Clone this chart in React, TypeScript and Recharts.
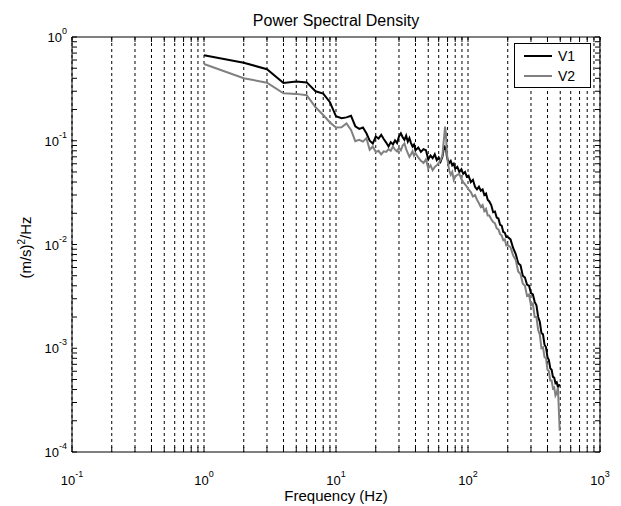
import React from "react";
import {
  LineChart,
  Line,
  XAxis,
  YAxis,
  CartesianGrid,
  Legend,
} from "recharts";

const FONT = "'Liberation Sans', Arial, Helvetica, sans-serif";

// frequency bins (Hz), shared by both channels
const freqs = [
  1, 2, 3, 4, 5, 6, 7, 8, 9, 10, 11, 12, 13, 14, 15, 16, 17, 18, 19, 20,
  21, 22, 23, 24, 25, 26, 27, 28, 29, 30, 31, 32, 33, 34, 35, 36, 37, 38, 39, 40,
  42, 44, 46, 48, 50, 52, 54, 56, 58, 60, 62, 64,
  65, 66, 67, 68, 69, 70,
  72, 74, 76, 78, 80,
  83, 86, 89, 92, 95, 98,
  101, 105, 109, 113, 117, 121, 125, 129, 133, 137, 141, 145,
  150, 155, 160, 165, 170, 175, 180, 185, 190, 195, 200,
  210, 220, 230, 240, 250, 260, 270, 280, 290, 300, 310, 320, 330, 340, 350,
  360, 370, 380, 390, 400, 410, 420, 430, 440, 450, 460, 470, 480, 495,
];

const v1 = [
  0.667, 0.565, 0.489, 0.36, 0.372, 0.365, 0.3, 0.285, 0.235, 0.172, 0.165, 0.168, 0.174, 0.138, 0.13, 0.134, 0.118, 0.1, 0.094, 0.11,
  0.105, 0.114, 0.104, 0.096, 0.088, 0.097, 0.092, 0.101, 0.095, 0.11, 0.118, 0.108, 0.102, 0.112, 0.098, 0.106, 0.095, 0.088, 0.092, 0.081,
  0.086, 0.078, 0.083, 0.081, 0.066, 0.072, 0.068, 0.074, 0.065, 0.069, 0.063, 0.07,
  0.078, 0.09, 0.082, 0.088, 0.072, 0.066,
  0.061, 0.064, 0.058, 0.06, 0.054,
  0.056, 0.05, 0.053, 0.048, 0.05, 0.045,
  0.046, 0.04, 0.042, 0.036, 0.034, 0.036, 0.033, 0.034, 0.03, 0.031, 0.027, 0.026,
  0.024, 0.0205, 0.0208, 0.0182, 0.0178, 0.0155, 0.0152, 0.0132, 0.013, 0.0118, 0.0118,
  0.0112, 0.0092, 0.0081, 0.0066, 0.0063, 0.005, 0.0048, 0.0041, 0.004, 0.0034, 0.0033, 0.0028, 0.0026, 0.002, 0.0018,
  0.0014, 0.00136, 0.00108, 0.00102, 0.00082, 0.00077, 0.00064, 0.00062, 0.00053, 0.00052, 0.00046, 0.00047, 0.00042, 0.00045,
];

const v2 = [
  0.549, 0.4, 0.363, 0.287, 0.283, 0.275, 0.21, 0.177, 0.15, 0.134, 0.135, 0.147, 0.127, 0.099, 0.102, 0.098, 0.106, 0.082, 0.088, 0.078,
  0.08, 0.074, 0.079, 0.078, 0.083, 0.08, 0.088, 0.082, 0.079, 0.085, 0.081, 0.09, 0.094, 0.083, 0.076, 0.07, 0.074, 0.079, 0.072, 0.076,
  0.069, 0.064, 0.061, 0.066, 0.054, 0.058, 0.052, 0.056, 0.058, 0.061, 0.065, 0.072,
  0.09, 0.11, 0.137, 0.12, 0.08, 0.065,
  0.052, 0.047, 0.05, 0.042, 0.045,
  0.047, 0.048, 0.043, 0.04, 0.038, 0.036,
  0.034, 0.032, 0.029, 0.03, 0.027, 0.025, 0.023, 0.024, 0.021, 0.022, 0.019, 0.019,
  0.0175, 0.0165, 0.016, 0.0143, 0.014, 0.0126, 0.0122, 0.011, 0.0112, 0.0098, 0.0099,
  0.0094, 0.0078, 0.0071, 0.0055, 0.0052, 0.0042, 0.004, 0.0032, 0.0033, 0.0026, 0.0027, 0.002, 0.002, 0.0015, 0.00135,
  0.001, 0.00102, 0.00082, 0.0008, 0.00062, 0.0006, 0.00049, 0.00049, 0.00041, 0.00042, 0.00035, 0.00037, 0.00042, 0.00016,
];

const xDecades = [-1, 3];
const yDecades = [-4, 0];
const minorSteps = [1, 2, 3, 4, 5, 6, 7, 8, 9];

const data = freqs.map((f, i) => ({ f, v1: v1[i], v2: v2[i] }));

const logTicks = ([lo, hi]: number[]) => {
  const out: number[] = [];
  for (let e = lo; e <= hi; e++) {
    for (const m of minorSteps) {
      if (e === hi && m > 1) break;
      out.push(Number((m * Math.pow(10, e)).toPrecision(3)));
    }
  }
  return out;
};

const xTicks = logTicks(xDecades);
const yTicks = logTicks(yDecades);

const majorExp = (v: number) => {
  const l = Math.log10(v);
  const e = Math.round(l);
  return Math.abs(l - e) < 1e-6 ? e : null;
};

const BottomTick = ({ x, y, payload }: any) => {
  const e = majorExp(payload.value);
  return (
    <g>
      <line x1={x} y1={y} x2={x} y2={y - 5} stroke="#000" />
      {e !== null && (
        <text x={x} y={y + 33} textAnchor="middle" fontFamily={FONT} fontSize={13} fill="#000">
          10
          <tspan dy={-8} fontSize={9}>{e}</tspan>
        </text>
      )}
    </g>
  );
};

const TopTick = ({ x, y }: any) => (
  <line x1={x} y1={y} x2={x} y2={y + 5} stroke="#000" />
);

const LeftTick = ({ x, y, payload }: any) => {
  const e = majorExp(payload.value);
  return (
    <g>
      <line x1={x} y1={y} x2={x + 5} y2={y} stroke="#000" />
      {e !== null && (
        <text x={x - 5} y={y + 5} textAnchor="end" fontFamily={FONT} fontSize={13} fill="#000">
          10
          <tspan dy={-8} fontSize={9}>{e}</tspan>
        </text>
      )}
    </g>
  );
};

const RightTick = ({ x, y }: any) => (
  <line x1={x} y1={y} x2={x - 5} y2={y} stroke="#000" />
);

const LegendBox = ({ payload }: any) => (
  <div
    style={{
      width: 77,
      height: 45,
      boxSizing: "border-box",
      border: "1px solid #000",
      background: "#fff",
      paddingTop: 2,
      fontFamily: FONT,
      fontSize: 14,
    }}
  >
    {(payload || []).map((p: any) => (
      <div key={p.value} style={{ display: "flex", alignItems: "center", height: 20 }}>
        <div style={{ width: 28, height: 2, background: p.color, marginLeft: 9, marginRight: 6 }} />
        <span style={{ color: "#000" }}>{p.value}</span>
      </div>
    ))}
  </div>
);

export default function App() {
  return (
    <div style={{ position: "absolute", left: 0, top: 0, background: "#fff" }}>
      <LineChart
        width={621}
        height={506}
        data={data}
        margin={{ top: 7, right: 20, bottom: 14, left: 12 }}
      >
        <CartesianGrid horizontal={false} stroke="#000" strokeDasharray="3 3" />
        <XAxis
          dataKey="f"
          type="number"
          scale="log"
          domain={[0.1, 1000]}
          allowDataOverflow
          ticks={xTicks}
          interval={0}
          height={40}
          tickSize={0}
          tickMargin={0}
          tickLine={false}
          tick={<BottomTick />}
          axisLine={{ stroke: "#000" }}
          label={({ viewBox }: any) => (
            <text
              x={viewBox.x + viewBox.width / 2}
              y={viewBox.y + 49}
              textAnchor="middle"
              fontFamily={FONT}
              fontSize={15}
              fill="#000"
            >
              Frequency (Hz)
            </text>
          )}
        />
        <XAxis
          xAxisId="t"
          orientation="top"
          dataKey="f"
          type="number"
          scale="log"
          domain={[0.1, 1000]}
          allowDataOverflow
          ticks={xTicks}
          interval={0}
          height={30}
          tickSize={0}
          tickMargin={0}
          tickLine={false}
          tick={<TopTick />}
          axisLine={{ stroke: "#000" }}
          label={({ viewBox }: any) => (
            <text
              x={viewBox.x + viewBox.width / 2}
              y={viewBox.y + viewBox.height - 11}
              textAnchor="middle"
              fontFamily={FONT}
              fontSize={16}
              fill="#000"
            >
              Power Spectral Density
            </text>
          )}
        />
        <YAxis
          type="number"
          scale="log"
          domain={[0.0001, 1]}
          allowDataOverflow
          ticks={yTicks}
          interval={0}
          width={60}
          tickSize={0}
          tickMargin={0}
          tickLine={false}
          tick={<LeftTick />}
          axisLine={{ stroke: "#000" }}
          label={({ viewBox }: any) => {
            const cx = viewBox.x + viewBox.width - 41;
            const cy = viewBox.y + viewBox.height / 2 + 3;
            return (
              <text
                x={cx}
                y={cy}
                transform={`rotate(-90, ${cx}, ${cy})`}
                textAnchor="middle"
                fontFamily={FONT}
                fontSize={15}
                fill="#000"
              >
                (m/s)
                <tspan dy={-6} fontSize={10}>2</tspan>
                <tspan dy={6}>/Hz</tspan>
              </text>
            );
          }}
        />
        <YAxis
          yAxisId="r"
          orientation="right"
          type="number"
          scale="log"
          domain={[0.0001, 1]}
          allowDataOverflow
          ticks={yTicks}
          interval={0}
          width={1}
          tickSize={0}
          tickMargin={0}
          tickLine={false}
          tick={<RightTick />}
          axisLine={{ stroke: "#000" }}
        />
        <Legend
          layout="horizontal"
          verticalAlign="middle"
          align="center"
          content={<LegendBox />}
          wrapperStyle={{ left: 514, top: 43, width: 77, height: 45 }}
        />
        <Line
          type="linear"
          dataKey="v1"
          name="V1"
          stroke="#000000"
          strokeWidth={2}
          dot={false}
          isAnimationActive={false}
        />
        <Line
          type="linear"
          dataKey="v2"
          name="V2"
          stroke="#808080"
          strokeWidth={2}
          dot={false}
          isAnimationActive={false}
        />
      </LineChart>
    </div>
  );
}
